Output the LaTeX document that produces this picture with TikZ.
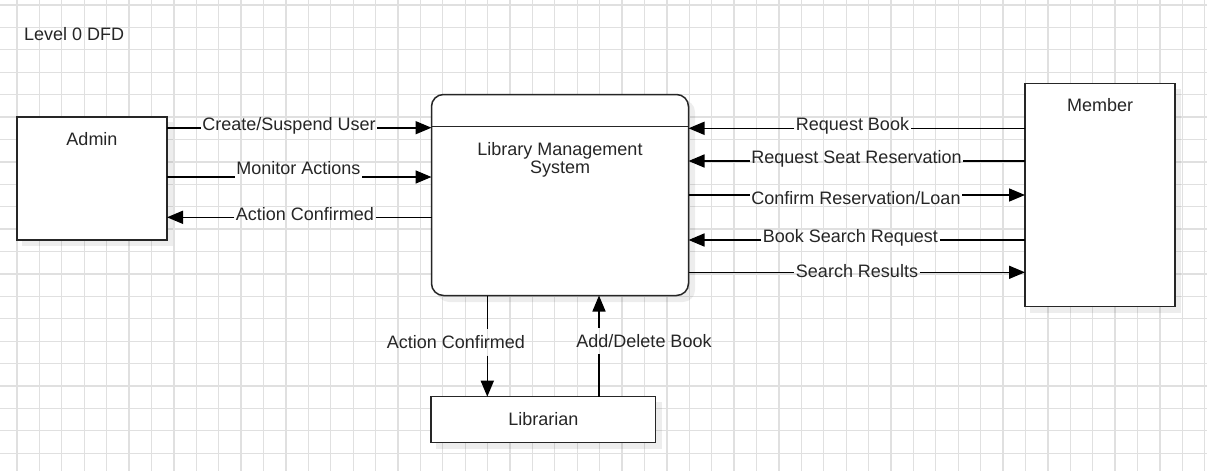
\documentclass[tikz,border=0pt]{standalone}
\usepackage{fontspec}
\setmainfont{Liberation Sans}
\usetikzlibrary{arrows.meta}
\begin{document}
\begin{tikzpicture}[x=1pt,y=-1pt,
  box/.style={draw=black!85, line width=1.5pt, fill=white, inner sep=0pt, outer sep=0pt},
  shadowbox/.style={fill=black, opacity=0.07, draw=none},
  txt/.style={text=black!85, font=\fontsize{18}{17.5}\selectfont, inner sep=0pt, anchor=base},
  lbl/.style={txt, inner xsep=1.5pt},
  vlbl/.style={txt, text height=13pt, text depth=0pt, inner ysep=6.5pt},
  flow/.style={draw=black, line width=1.6pt},
  arr/.style={flow, -{Triangle[length=16pt,width=13pt]}},
  gridline/.style={draw=black!12, line width=1.3pt}]

% background and bounding box
\fill[white] (0,0) rectangle (1207,471);
\useasboundingbox (0,0) rectangle (1207,471);
\begin{scope}
\clip (0,0) rectangle (1207,471);
\foreach \k in {-1,...,54} \draw[gridline] ({17+22.41*\k},0) -- ({17+22.41*\k},471);
\foreach \k in {0,...,21} \draw[gridline] (0,{5+22.41*\k}) -- (1207,{5+22.41*\k});
\end{scope}

% title
\node[txt, anchor=base west] (title) at (24,40) {Level 0 DFD};

% shadows
\fill[shadowbox] (22,122) rectangle (173,246);
\fill[shadowbox, rounded corners=12pt] (437,100) rectangle (695,302);
\fill[shadowbox] (1030,89) rectangle (1181,313);
\fill[shadowbox] (436,402) rectangle (662,449);

% boxes
\node[box, minimum width=150pt, minimum height=123pt] (admin) at (92,178.5) {};
\node[txt] (admint) at (92,145.7) {Admin};

\node[box, rounded corners=12pt, minimum width=257pt, minimum height=201pt] (lms) at (560,195) {};
\coordinate (lmsline) at (0,126.7);
\draw[draw=black!85, line width=1.5pt] (lms.west |- lmsline) -- (lms.east |- lmsline);
\node[txt, align=center] (lmst) at (560,173.3) {Library Management\\System};

\node[box, minimum width=150pt, minimum height=223.4pt] (member) at (1100,195) {};
\node[txt] (membert) at (1100,111.7) {Member};

\node[box, minimum width=224.7pt, minimum height=46pt] (lib) at (543.3,419.7) {};
\node[txt] (libt) at (543.3,425) {Librarian};

% line levels
\coordinate (ya) at (0,127.7);
\coordinate (yb) at (0,177);
\coordinate (yc) at (0,217.3);
\coordinate (yd) at (0,128.3);
\coordinate (ye) at (0,161);
\coordinate (yf) at (0,195);
\coordinate (yg) at (0,240);
\coordinate (yh) at (0,272.3);
\coordinate (xa) at (487.3,0);
\coordinate (xb) at (599,0);

% admin side
\node[lbl] (la) at (289,130.7) {Create/Suspend User};
\draw[flow] (admin.east |- ya) -- (la.west |- ya);
\draw[arr] (la.east |- ya) -- (lms.west |- ya);

\node[lbl] (lb) at (298.3,174) {Monitor Actions};
\draw[flow] (admin.east |- yb) -- (lb.west |- yb);
\draw[arr] (lb.east |- yb) -- (lms.west |- yb);

\node[lbl] (lc) at (305,220.7) {Action Confirmed};
\draw[flow] (lms.west |- yc) -- (lc.east |- yc);
\draw[arr] (lc.west |- yc) -- (admin.east |- yc);

% member side
\node[lbl] (ld) at (852.5,130) {Request Book};
\draw[flow] (member.west |- yd) -- (ld.east |- yd);
\draw[arr] (ld.west |- yd) -- (lms.east |- yd);

\node[lbl] (le) at (856.5,163.8) {Request Seat Reservation};
\draw[flow] (member.west |- ye) -- (le.east |- ye);
\draw[arr] (le.west |- ye) -- (lms.east |- ye);

\node[lbl] (lf) at (856,204) {Confirm Reservation/Loan};
\draw[flow] (lms.east |- yf) -- (lf.west |- yf);
\draw[arr] (lf.east |- yf) -- (member.west |- yf);

\node[lbl] (lg) at (850.3,242.7) {Book Search Request};
\draw[flow] (member.west |- yg) -- (lg.east |- yg);
\draw[arr] (lg.west |- yg) -- (lms.east |- yg);

\node[lbl] (lh) at (857,277) {Search Results};
\draw[flow] (lms.east |- yh) -- (lh.west |- yh);
\draw[arr] (lh.east |- yh) -- (member.west |- yh);

% librarian
\node[vlbl] (li) at (456,348.8) {Action Confirmed};
\draw[flow] (lms.south -| xa) -- (li.north -| xa);
\draw[arr] (li.south -| xa) -- (lib.north -| xa);

\node[vlbl] (lj) at (644,347.5) {Add/Delete Book};
\draw[flow] (lib.north -| xb) -- (lj.south -| xb);
\draw[arr] (lj.north -| xb) -- (lms.south -| xb);
\end{tikzpicture}
\end{document}
